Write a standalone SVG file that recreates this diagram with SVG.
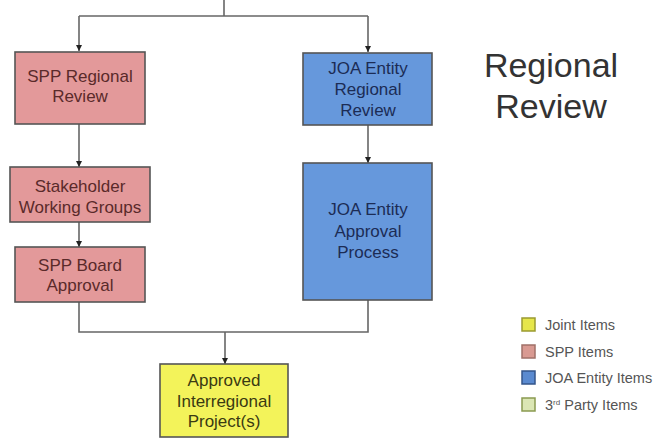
<svg xmlns="http://www.w3.org/2000/svg" width="662" height="442" viewBox="0 0 662 442">
<defs>
<marker id="arr" viewBox="0 0 10 10" refX="10" refY="5" markerWidth="6" markerHeight="6" markerUnits="userSpaceOnUse" orient="auto">
<path d="M0,0 L10,5 L0,10 z" fill="#222"/>
</marker>
<style>
.bg{fill:#ffffff}
.con{fill:none;stroke:#666;stroke-width:1.6}
.box{stroke:#555;stroke-width:1.6}
.spp{fill:#e3999a}
.joa{fill:#6698dc}
.joint{fill:#f3f35a}
.t{font-family:"Liberation Sans",Arial,sans-serif;font-size:17px;text-anchor:middle}
.ts{fill:#5a2a2a}
.tj{fill:#1c2c55}
.ty{fill:#3a3a12}
.title{font-family:"Liberation Sans",Arial,sans-serif;font-size:34px;fill:#333;text-anchor:middle}
.lg{font-family:"Liberation Sans",Arial,sans-serif;font-size:14.5px;fill:#555}
</style>
</defs>
<rect class="bg" x="0" y="0" width="662" height="442"/>
<g id="connectors">
<path class="con" d="M224,0 V16"/>
<path class="con" d="M79,16 H368"/>
<path class="con" d="M79,16 V51" marker-end="url(#arr)"/>
<path class="con" d="M368,16 V52" marker-end="url(#arr)"/>
<path class="con" d="M79,124 V167" marker-end="url(#arr)"/>
<path class="con" d="M79,222 V247" marker-end="url(#arr)"/>
<path class="con" d="M368,125 V163" marker-end="url(#arr)"/>
<path class="con" d="M79,302 V332 H368 V300"/>
<path class="con" d="M225,332 V364" marker-end="url(#arr)"/>
</g>
<g id="spp-regional-review">
<rect class="box spp" x="15" y="52" width="130" height="72"/>
<text class="t ts" x="80" y="82">SPP Regional</text>
<text class="t ts" x="80" y="102">Review</text>
</g>
<g id="stakeholder-working-groups">
<rect class="box spp" x="10" y="167" width="140" height="55"/>
<text class="t ts" x="80" y="192">Stakeholder</text>
<text class="t ts" x="80" y="213">Working Groups</text>
</g>
<g id="spp-board-approval">
<rect class="box spp" x="15" y="247" width="130" height="55"/>
<text class="t ts" x="80" y="271">SPP Board</text>
<text class="t ts" x="80" y="291">Approval</text>
</g>
<g id="joa-entity-regional-review">
<rect class="box joa" x="303" y="53" width="129" height="72"/>
<text class="t tj" x="368" y="74">JOA Entity</text>
<text class="t tj" x="368" y="95">Regional</text>
<text class="t tj" x="368" y="116">Review</text>
</g>
<g id="joa-entity-approval-process">
<rect class="box joa" x="303" y="163" width="129" height="137"/>
<text class="t tj" x="368" y="215">JOA Entity</text>
<text class="t tj" x="368" y="237">Approval</text>
<text class="t tj" x="368" y="258">Process</text>
</g>
<g id="approved-interregional-projects">
<rect class="box joint" x="160" y="364" width="128" height="73"/>
<text class="t ty" x="224" y="386">Approved</text>
<text class="t ty" x="224" y="407">Interregional</text>
<text class="t ty" x="224" y="427">Project(s)</text>
</g>
<g id="title">
<text class="title" x="551" y="77">Regional</text>
<text class="title" x="551" y="118">Review</text>
</g>
<g id="legend">
<rect x="522" y="318" width="13" height="13" fill="#e6e64a" stroke="#9a9a30" stroke-width="1.5"/>
<text class="lg" x="545" y="330">Joint Items</text>
<rect x="522" y="345" width="13" height="13" fill="#d99a92" stroke="#a07068" stroke-width="1.5"/>
<text class="lg" x="545" y="357">SPP Items</text>
<rect x="522" y="371" width="13" height="13" fill="#5a8ad0" stroke="#34558a" stroke-width="1.5"/>
<text class="lg" x="545" y="383">JOA Entity Items</text>
<rect x="522" y="398" width="13" height="13" fill="#dbe6b4" stroke="#8a9a50" stroke-width="1.5"/>
<text class="lg" x="545" y="410">3<tspan font-size="8" dy="-5">rd</tspan><tspan dy="5"> Party Items</tspan></text>
</g>
</svg>
